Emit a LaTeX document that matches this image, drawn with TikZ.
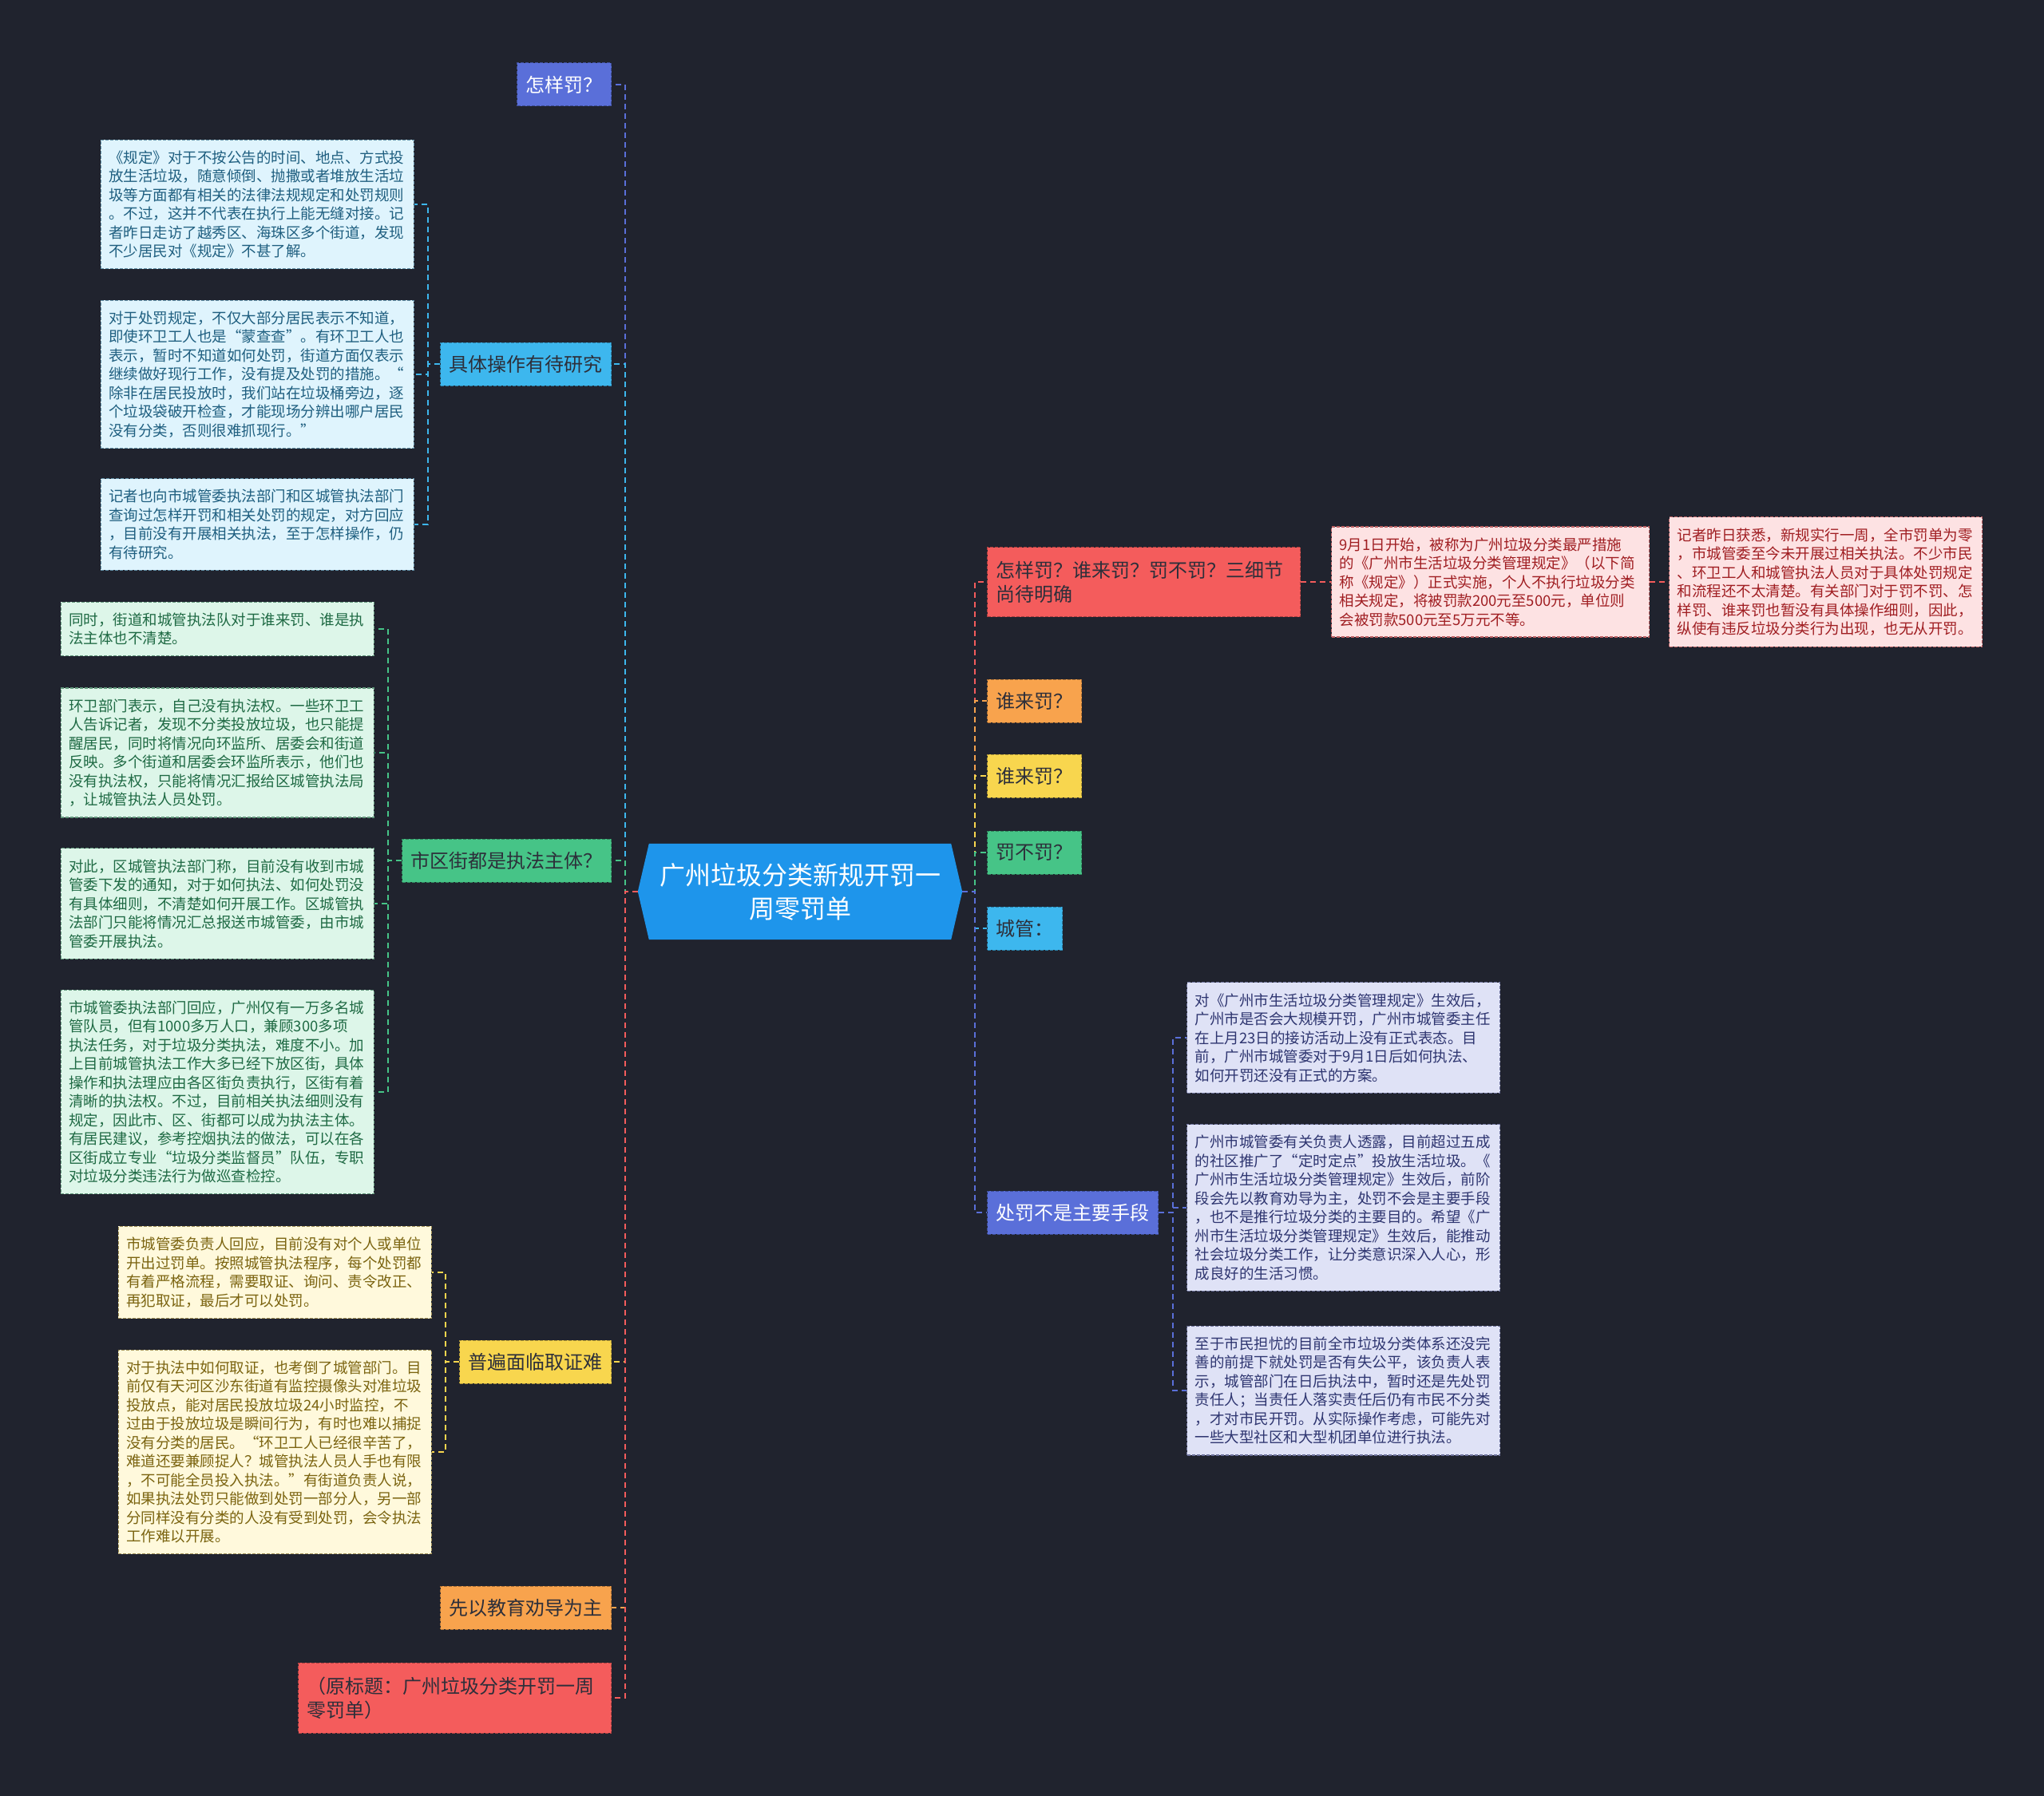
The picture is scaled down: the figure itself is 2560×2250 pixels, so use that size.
\documentclass[tikz,border=0pt]{standalone}
\usepackage{fontspec}
\setmainfont{Noto Sans CJK SC}
\usepackage{tikz}
\usetikzlibrary{calc, backgrounds}
\definecolor{bgdark}{HTML}{20232E}
\definecolor{rootblue}{HTML}{1E95EB}
\definecolor{txtdark}{HTML}{2D2F3A}
\definecolor{cblue}{HTML}{5A6FD9}
\definecolor{ccyan}{HTML}{3DB7EE}
\definecolor{cgreen}{HTML}{46C487}
\definecolor{cyellow}{HTML}{F8D64E}
\definecolor{corange}{HTML}{F8A34D}
\definecolor{cred}{HTML}{F45C5C}
\definecolor{ncyan}{HTML}{DFF4FD}
\definecolor{ncyantxt}{HTML}{1F5F80}
\definecolor{ngreen}{HTML}{DDF6E9}
\definecolor{ngreentxt}{HTML}{1F6A44}
\definecolor{nyellow}{HTML}{FFF9DC}
\definecolor{nyellowtxt}{HTML}{7B6410}
\definecolor{nred}{HTML}{FDE2E3}
\definecolor{nredtxt}{HTML}{A01E22}
\definecolor{nblue}{HTML}{DFE2F6}
\definecolor{nbluetxt}{HTML}{2E3570}

\begin{document}
\begin{tikzpicture}[x=1pt, y=-1pt,
		root/.style={minimum width=406pt, minimum height=120pt, inner sep=0pt,
			align=center, text=white, font=\fontsize{32}{42}\selectfont},
		branch/.style={rectangle, inner xsep=11pt, inner ysep=13pt,
			minimum height=54pt, align=left, text=txtdark,
			font=\fontsize{24}{30}\selectfont,
			dash pattern=on 4pt off 2pt, line width=1pt},
		note/.style={rectangle, inner xsep=10pt, inner ysep=13.5pt,
			text width=372pt, align=left, font=\fontsize{18.5}{23.5}\selectfont,
			dash pattern=on 4pt off 2pt, line width=1.2pt},
		link/.style={dash pattern=on 7pt off 5pt, line width=2pt}
		]
		\useasboundingbox (0,0) rectangle (2560,2250);
		
		\node[root] (root) at (1002,1117) {广州垃圾分类新规开罚一\\周零罚单};
		\begin{scope}[on background layer]
			\fill[bgdark] (0,0) rectangle (2560,2250);
			\fill[rootblue] (root.west) -- ($(root.north west)+(14,0)$)
			-- ($(root.north east)+(-14,0)$) -- (root.east)
			-- ($(root.south east)+(-14,0)$) -- ($(root.south west)+(14,0)$) -- cycle;
		\end{scope}
		
		% left side
		\node[branch, fill=cblue, draw=cblue!70!black, text=white, anchor=east] (howpen) at (766,106) {怎样罚？};
		\node[branch, fill=ccyan, draw=ccyan!70!black, anchor=east] (practice) at (766,456) {具体操作有待研究};
		\node[branch, fill=cgreen, draw=cgreen!70!black, anchor=east] (subject) at (766,1078) {市区街都是执法主体？};
		\node[branch, fill=cyellow, draw=cyellow!70!black, anchor=east] (evidence) at (766,1706) {普遍面临取证难};
		\node[branch, fill=corange, draw=corange!70!black, anchor=east] (educate) at (766,2014) {先以教育劝导为主};
		\node[branch, fill=cred, draw=cred!70!black, anchor=east, text width=370pt, minimum height=88pt] (origin) at (766,2127)
		{（原标题：广州垃圾分类开罚一周\\零罚单）};
		
		\node[note, fill=ncyan, draw=ncyantxt!70, text=ncyantxt, anchor=east] (practice1) at (519,256)
		{《规定》对于不按公告的时间、地点、方式投\\放生活垃圾，随意倾倒、抛撒或者堆放生活垃\\圾等方面都有相关的法律法规规定和处罚规则\\。不过，这并不代表在执行上能无缝对接。记\\者昨日走访了越秀区、海珠区多个街道，发现\\不少居民对《规定》不甚了解。};
		\node[note, fill=ncyan, draw=ncyantxt!70, text=ncyantxt, anchor=east] (practice2) at (519,469)
		{对于处罚规定，不仅大部分居民表示不知道，\\即使环卫工人也是“蒙查查”。有环卫工人也\\表示，暂时不知道如何处罚，街道方面仅表示\\继续做好现行工作，没有提及处罚的措施。“\\除非在居民投放时，我们站在垃圾桶旁边，逐\\个垃圾袋破开检查，才能现场分辨出哪户居民\\没有分类，否则很难抓现行。”};
		\node[note, fill=ncyan, draw=ncyantxt!70, text=ncyantxt, anchor=east] (practice3) at (519,657)
		{记者也向市城管委执法部门和区城管执法部门\\查询过怎样开罚和相关处罚的规定，对方回应\\，目前没有开展相关执法，至于怎样操作，仍\\有待研究。};
		
		\node[note, fill=ngreen, draw=ngreentxt!70, text=ngreentxt, anchor=east] (subject1) at (469,788)
		{同时，街道和城管执法队对于谁来罚、谁是执\\法主体也不清楚。};
		\node[note, fill=ngreen, draw=ngreentxt!70, text=ngreentxt, anchor=east] (subject2) at (469,943)
		{环卫部门表示，自己没有执法权。一些环卫工\\人告诉记者，发现不分类投放垃圾，也只能提\\醒居民，同时将情况向环监所、居委会和街道\\反映。多个街道和居委会环监所表示，他们也\\没有执法权，只能将情况汇报给区城管执法局\\，让城管执法人员处罚。};
		\node[note, fill=ngreen, draw=ngreentxt!70, text=ngreentxt, anchor=east] (subject3) at (469,1132)
		{对此，区城管执法部门称，目前没有收到市城\\管委下发的通知，对于如何执法、如何处罚没\\有具体细则，不清楚如何开展工作。区城管执\\法部门只能将情况汇总报送市城管委，由市城\\管委开展执法。};
		\node[note, fill=ngreen, draw=ngreentxt!70, text=ngreentxt, anchor=east] (subject4) at (469,1368)
		{市城管委执法部门回应，广州仅有一万多名城\\管队员，但有1000多万人口，兼顾300多项\\执法任务，对于垃圾分类执法，难度不小。加\\上目前城管执法工作大多已经下放区街，具体\\操作和执法理应由各区街负责执行，区街有着\\清晰的执法权。不过，目前相关执法细则没有\\规定，因此市、区、街都可以成为执法主体。\\有居民建议，参考控烟执法的做法，可以在各\\区街成立专业“垃圾分类监督员”队伍，专职\\对垃圾分类违法行为做巡查检控。};
		
		\node[note, fill=nyellow, draw=nyellowtxt!70, text=nyellowtxt, anchor=east] (evidence1) at (541,1594)
		{市城管委负责人回应，目前没有对个人或单位\\开出过罚单。按照城管执法程序，每个处罚都\\有着严格流程，需要取证、询问、责令改正、\\再犯取证，最后才可以处罚。};
		\node[note, fill=nyellow, draw=nyellowtxt!70, text=nyellowtxt, anchor=east] (evidence2) at (541,1819)
		{对于执法中如何取证，也考倒了城管部门。目\\前仅有天河区沙东街道有监控摄像头对准垃圾\\投放点，能对居民投放垃圾24小时监控，不\\过由于投放垃圾是瞬间行为，有时也难以捕捉\\没有分类的居民。“环卫工人已经很辛苦了，\\难道还要兼顾捉人？城管执法人员人手也有限\\，不可能全员投入执法。”有街道负责人说，\\如果执法处罚只能做到处罚一部分人，另一部\\分同样没有分类的人没有受到处罚，会令执法\\工作难以开展。};
		
		% right side
		\node[branch, fill=cred, draw=cred!70!black, anchor=west, text width=370pt, minimum height=87pt] (details) at (1236,729)
		{怎样罚？谁来罚？罚不罚？三细节\\尚待明确};
		\node[branch, fill=corange, draw=corange!70!black, anchor=west] (whofirst) at (1236,878) {谁来罚？};
		\node[branch, fill=cyellow, draw=cyellow!70!black, anchor=west] (whosecond) at (1236,972) {谁来罚？};
		\node[branch, fill=cgreen, draw=cgreen!70!black, anchor=west] (whether) at (1236,1068) {罚不罚？};
		\node[branch, fill=ccyan, draw=ccyan!70!black, anchor=west] (urban) at (1236,1163) {城管：};
		\node[branch, fill=cblue, draw=cblue!70!black, text=white, anchor=west] (notmain) at (1236,1519) {处罚不是主要手段};
		
		\node[note, fill=nred, draw=nredtxt!70, text=nredtxt, anchor=west, text width=378pt] (details1) at (1667,729)
		{9月1日开始，被称为广州垃圾分类最严措施\\的《广州市生活垃圾分类管理规定》（以下简\\称《规定》）正式实施，个人不执行垃圾分类\\相关规定，将被罚款200元至500元，单位则\\会被罚款500元至5万元不等。};
		\node[note, fill=nred, draw=nredtxt!70, text=nredtxt, anchor=west] (details2) at (2090,729)
		{记者昨日获悉，新规实行一周，全市罚单为零\\，市城管委至今未开展过相关执法。不少市民\\、环卫工人和城管执法人员对于具体处罚规定\\和流程还不太清楚。有关部门对于罚不罚、怎\\样罚、谁来罚也暂没有具体操作细则，因此，\\纵使有违反垃圾分类行为出现，也无从开罚。};
		
		\node[note, fill=nblue, draw=nbluetxt!70, text=nbluetxt, anchor=west] (notmain1) at (1486,1300)
		{对《广州市生活垃圾分类管理规定》生效后，\\广州市是否会大规模开罚，广州市城管委主任\\在上月23日的接访活动上没有正式表态。目\\前，广州市城管委对于9月1日后如何执法、\\如何开罚还没有正式的方案。};
		\node[note, fill=nblue, draw=nbluetxt!70, text=nbluetxt, anchor=west] (notmain2) at (1486,1513)
		{广州市城管委有关负责人透露，目前超过五成\\的社区推广了“定时定点”投放生活垃圾。《\\广州市生活垃圾分类管理规定》生效后，前阶\\段会先以教育劝导为主，处罚不会是主要手段\\，也不是推行垃圾分类的主要目的。希望《广\\州市生活垃圾分类管理规定》生效后，能推动\\社会垃圾分类工作，让分类意识深入人心，形\\成良好的生活习惯。};
		\node[note, fill=nblue, draw=nbluetxt!70, text=nbluetxt, anchor=west] (notmain3) at (1486,1742)
		{至于市民担忧的目前全市垃圾分类体系还没完\\善的前提下就处罚是否有失公平，该负责人表\\示，城管部门在日后执法中，暂时还是先处罚\\责任人；当责任人落实责任后仍有市民不分类\\，才对市民开罚。从实际操作考虑，可能先对\\一些大型社区和大型机团单位进行执法。};
		
		% connectors
		\draw[link, cblue] (root.west) -- ++(-16,0) |- (howpen.east);
		\draw[link, ccyan] (root.west) -- ++(-16,0) |- (practice.east);
		\draw[link, cgreen] (root.west) -- ++(-16,0) |- (subject.east);
		\draw[link, cyellow] (root.west) -- ++(-16,0) |- (evidence.east);
		\draw[link, corange] (root.west) -- ++(-16,0) |- (educate.east);
		\draw[link, cred] (root.west) -- ++(-16,0) |- (origin.east);
		
		\draw[link, cred] (root.east) -- ++(16,0) |- (details.west);
		\draw[link, corange] (root.east) -- ++(16,0) |- (whofirst.west);
		\draw[link, cyellow] (root.east) -- ++(16,0) |- (whosecond.west);
		\draw[link, cgreen] (root.east) -- ++(16,0) |- (whether.west);
		\draw[link, ccyan] (root.east) -- ++(16,0) |- (urban.west);
		\draw[link, cblue] (root.east) -- ++(16,0) |- (notmain.west);
		
		\draw[link, ccyan] (practice.west) -- ++(-15,0) |- (practice1.east);
		\draw[link, ccyan] (practice.west) -- ++(-15,0) |- (practice2.east);
		\draw[link, ccyan] (practice.west) -- ++(-15,0) |- (practice3.east);
		\draw[link, cgreen] (subject.west) -- ++(-17,0) |- (subject1.east);
		\draw[link, cgreen] (subject.west) -- ++(-17,0) |- (subject2.east);
		\draw[link, cgreen] (subject.west) -- ++(-17,0) |- (subject3.east);
		\draw[link, cgreen] (subject.west) -- ++(-17,0) |- (subject4.east);
		\draw[link, cyellow] (evidence.west) -- ++(-17,0) |- (evidence1.east);
		\draw[link, cyellow] (evidence.west) -- ++(-17,0) |- (evidence2.east);
		\draw[link, cred] (details.east) -- (details1.west);
		\draw[link, cred] (details1.east) -- (details2.west);
		\draw[link, cblue] (notmain.east) -- ++(18,0) |- (notmain1.west);
		\draw[link, cblue] (notmain.east) -- ++(18,0) |- (notmain2.west);
		\draw[link, cblue] (notmain.east) -- ++(18,0) |- (notmain3.west);
	\end{tikzpicture}
\end{document}
